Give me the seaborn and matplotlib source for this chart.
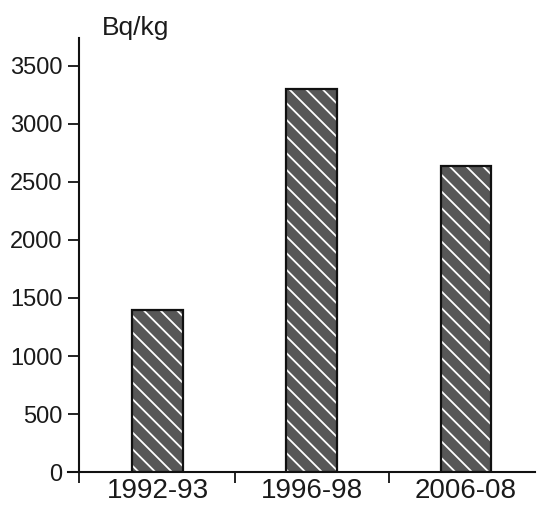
import matplotlib
matplotlib.use("Agg")
import matplotlib.pyplot as plt
import seaborn as sns
import pandas as pd

periods = ["1992-93", "1996-98", "2006-08"]
activity = [1400, 3300, 2640]
y_ticks = [0, 500, 1000, 1500, 2000, 2500, 3000, 3500]
unit = "Bq/kg"

df = pd.DataFrame({"period": periods, "activity": activity})

sns.set_style("white")
plt.rcParams["font.family"] = ["Liberation Sans", "DejaVu Sans"]
plt.rcParams["hatch.linewidth"] = 1.3

fig = plt.figure(figsize=(5.37, 5.05), dpi=100)
ax = fig.add_axes([0.147, 0.065, 0.85, 0.86])

# hatched fill, white stripes on dark grey
sns.barplot(data=df, x="period", y="activity", color="#575757", saturation=1,
            width=0.33, errorbar=None, edgecolor="white", linewidth=0,
            hatch=r"\\", ax=ax)
# black outline on top
sns.barplot(data=df, x="period", y="activity", color="#111111", fill=False,
            width=0.33, errorbar=None, linewidth=1.6, ax=ax)

ax.set_xlim(-0.51, 2.45)
ax.set_ylim(0, 3740)
ax.set_xlabel("")
ax.set_ylabel("")

for s in ["top", "right"]:
    ax.spines[s].set_visible(False)
for s in ["left", "bottom"]:
    ax.spines[s].set_linewidth(1.5)
    ax.spines[s].set_color("#111111")
ax.spines["bottom"].set_bounds(-0.58, 2.45)

ax.set_yticks(y_ticks)
ax.set_yticklabels([str(v) for v in y_ticks], fontsize=17, color="#1a1a1a")
ax.tick_params(axis="y", direction="out", length=8, width=1.3, pad=4,
               left=True, color="#111111")

ax.set_xticks([0, 1, 2])
ax.set_xticklabels(periods, fontsize=20, color="#1a1a1a")
ax.tick_params(axis="x", which="major", length=0, pad=4)
ax.set_xticks([-0.51, 0.5, 1.5], minor=True)
ax.tick_params(axis="x", which="minor", direction="out", length=8, width=1.3,
               bottom=True, color="#111111")

fig.text(0.19, 0.968, unit, fontsize=19, color="#1a1a1a", ha="left", va="top")

fig.savefig("out.png", dpi=100, facecolor="white")
